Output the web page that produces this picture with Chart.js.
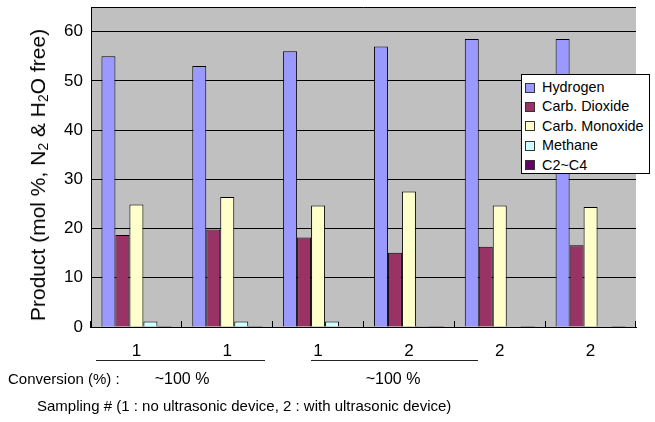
<!DOCTYPE html>
<html>
<head>
<meta charset="utf-8">
<script src="https://cdn.jsdelivr.net/npm/chart.js@4.4.1/dist/chart.umd.min.js"></script>
<style>
  html, body { margin: 0; padding: 0; background: #fff; }
  #wrap { position: relative; width: 655px; height: 422px; font-family: "Liberation Sans", Arial, sans-serif; color: #000; }
  #chart { position: absolute; left: 0; top: 0; }
  .txt { position: absolute; white-space: nowrap; }
  .rule { position: absolute; height: 0; border-top: 1px solid #222; }
  #ytitle { position: absolute; left: 38px; top: 175px; font-size: 21px; white-space: nowrap;
            transform: translate(-50%, -50%) rotate(-90deg); }
  #ytitle sub { font-size: 14px; vertical-align: -3px; line-height: 0; }
  #legend { position: absolute; left: 521px; top: 74px; width: 129px; height: 100px; background: #fff;
            border: 1px solid #000; box-sizing: border-box; padding: 3px 0 0 2px; font-size: 14.4px; }
  #legend .item { height: 19.4px; line-height: 19.4px; display: flex; align-items: center; }
  #legend .sw { width: 8px; height: 8px; border: 1px solid #333; margin: 0 7px 0 1px; flex: none; }
</style>
</head>
<body>
<div id="wrap">
  <canvas id="chart" width="655" height="422"></canvas>
  <div id="ytitle">Product (mol %, N<sub>2</sub> &amp; H<sub>2</sub>O free)</div>
  <div id="legend"></div>
  <div class="rule" style="left:96px; top:360px; width:169px;"></div>
  <div class="rule" style="left:311px; top:360px; width:167px;"></div>
  <div class="txt" style="left:8px; top:370px; font-size:15px;">Conversion (%) :</div>
  <div class="txt" id="conv1" style="left:182px; top:370px; font-size:16px; transform:translateX(-50%);"></div>
  <div class="txt" id="conv2" style="left:393px; top:370px; font-size:16px; transform:translateX(-50%);"></div>
  <div class="txt" style="left:37px; top:397px; font-size:15px;">Sampling # (1 : no ultrasonic device, 2 : with ultrasonic device)</div>
</div>
<script>
// Sampling runs (1 = no ultrasonic device, 2 = with ultrasonic device)
const samplingLabels = ['1', '1', '1', '2', '2', '2'];
const conversionLabels = ['~100 %', '~100 %'];

// Product composition, mol % (N2 & H2O free)
const hydrogen     = [55.0, 53.0, 56.0, 57.0, 58.5, 58.5];
const carbDioxide  = [18.7, 19.8, 18.2, 15.1, 16.3, 16.6];
const carbMonoxide = [24.9, 26.4, 24.7, 27.5, 24.7, 24.4];
const methane      = [1.1, 1.1, 1.1, 0.2, 0.0, 0.0];
const c2c4         = [0.2, 0.2, 0.0, 0.2, 0.2, 0.2];

const seriesNames  = ['Hydrogen', 'Carb. Dioxide', 'Carb. Monoxide', 'Methane', 'C2~C4'];
const seriesColors = ['#9999FF', '#993366', '#FFFFCC', '#CCFFFF', '#660066'];
const seriesValues = [hydrogen, carbDioxide, carbMonoxide, methane, c2c4];

document.getElementById('conv1').textContent = conversionLabels[0];
document.getElementById('conv2').textContent = conversionLabels[1];

const FONT = '"Liberation Sans", Arial, sans-serif';

// Grey plot area with a dark top edge
const plotBackground = {
  id: 'plotBackground',
  beforeDraw(chart) {
    const { ctx, chartArea: a } = chart;
    ctx.save();
    ctx.fillStyle = '#C0C0C0';
    ctx.fillRect(a.left, a.top, a.right - a.left, a.bottom - a.top);
    ctx.strokeStyle = '#000';
    ctx.lineWidth = 1;
    ctx.beginPath();
    ctx.moveTo(a.left, Math.round(a.top) + 0.5);
    ctx.lineTo(a.right, Math.round(a.top) + 0.5);
    ctx.stroke();
    ctx.restore();
  }
};

const chart = new Chart(document.getElementById('chart'), {
  type: 'bar',
  data: {
    labels: samplingLabels,
    datasets: seriesNames.map((name, i) => ({
      label: name,
      data: seriesValues[i],
      backgroundColor: seriesColors[i],
      borderColor: '#000',
      borderWidth: 1,
      categoryPercentage: 0.77,
      barPercentage: 1.0
    }))
  },
  options: {
    responsive: false,
    devicePixelRatio: 1,
    animation: false,
    layout: { padding: { left: 0, right: 19, top: 7, bottom: 0 } },
    plugins: {
      legend: { display: false },
      tooltip: { enabled: false }
    },
    scales: {
      x: {
        offset: true,
        grid: {
          offset: true,
          drawOnChartArea: false,
          drawTicks: true,
          tickLength: -6,
          color: '#000',
          lineWidth: 1
        },
        border: { display: true, color: '#000', width: 1 },
        ticks: { color: '#000', font: { family: FONT, size: 17 }, padding: 20, maxRotation: 0 },
        afterFit(scale) { scale.height = 95; scale.paddingLeft = 0; scale.paddingRight = 0; }
      },
      y: {
        min: 0,
        max: 65,
        afterBuildTicks(scale) {
          scale.ticks = [0, 10, 20, 30, 40, 50, 60].map(v => ({ value: v }));
        },
        grid: { color: '#000', lineWidth: 1, drawTicks: false },
        border: { display: true, color: '#000', width: 1 },
        ticks: { color: '#000', font: { family: FONT, size: 17 }, padding: 8 },
        afterFit(scale) { scale.width = 91; scale.paddingTop = 0; scale.paddingBottom = 0; }
      }
    }
  },
  plugins: [plotBackground]
});

// Legend built from the chart's datasets
const legendEl = document.getElementById('legend');
chart.data.datasets.forEach(ds => {
  const item = document.createElement('div');
  item.className = 'item';
  const sw = document.createElement('span');
  sw.className = 'sw';
  sw.style.background = ds.backgroundColor;
  const label = document.createElement('span');
  label.textContent = ds.label;
  item.appendChild(sw);
  item.appendChild(label);
  legendEl.appendChild(item);
});
</script>
</body>
</html>
